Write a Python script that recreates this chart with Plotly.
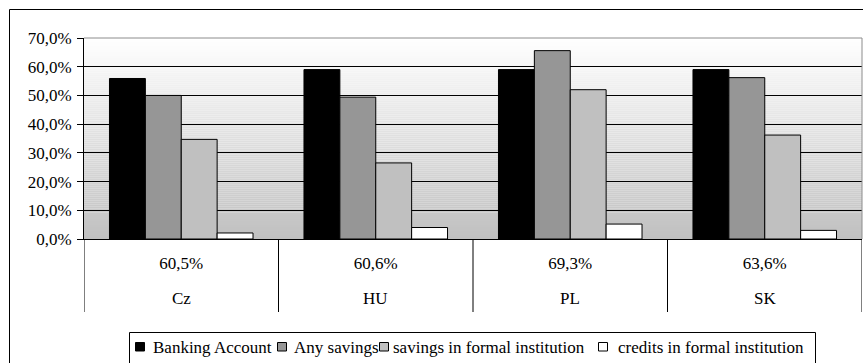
import plotly.graph_objects as go

# Survey shares by country (fractions of respondents)
countries = ["Cz", "HU", "PL", "SK"]
overall = ["60,5%", "60,6%", "69,3%", "63,6%"]
banking_account = [0.559, 0.590, 0.590, 0.590]
any_savings = [0.500, 0.494, 0.656, 0.562]
savings_formal = [0.347, 0.265, 0.520, 0.362]
credits_formal = [0.021, 0.040, 0.052, 0.030]

series_names = ["Banking Account", "Any savings",
                "savings in formal institution", "credits in formal institution"]
series_values = [banking_account, any_savings, savings_formal, credits_formal]
series_colors = ["#000000", "#969696", "#c0c0c0", "#ffffff"]

W, H = 863, 363
L, R, T, B = 84, 1, 38, 124
PW = W - L - R
PH = H - T - B
FONT = "Liberation Serif"
FS = 17


def fx(px):
    """Pixel column -> paper x."""
    return (px - L) / PW


def fy(py):
    """Pixel row -> paper y."""
    return (H - B - py) / PH


def tfont():
    return dict(family=FONT, size=FS, color="#000000")


xs = list(range(len(countries)))

fig = go.Figure()
for name, vals, col in zip(series_names, series_values, series_colors):
    fig.add_trace(go.Bar(
        x=xs, y=vals, name=name,
        marker=dict(color=col, line=dict(color="#000000", width=1)),
        showlegend=False,
    ))

# vertical white-to-grey gradient behind the plot area
n_bands = 100
for i in range(n_bands):
    t = (i + 0.5) / n_bands
    g = round(192 + (255 - 192) * t)
    fig.add_shape(type="rect", xref="paper", yref="paper", layer="below",
                  x0=0, x1=1, y0=i / n_bands, y1=(i + 1) / n_bands,
                  line=dict(width=0), fillcolor=f"rgb({g},{g},{g})")

# grey border on top and right of the plot area
fig.add_shape(type="line", xref="paper", yref="paper", x0=0, x1=1, y0=1, y1=1,
              line=dict(color="#8c8c8c", width=1))
fig.add_shape(type="line", xref="paper", yref="paper", x0=1, x1=1, y0=0, y1=1,
              line=dict(color="#8c8c8c", width=1))

# category dividers below the axis
for k in range(len(countries) + 1):
    fig.add_shape(type="line", xref="x", yref="paper",
                  x0=k - 0.5, x1=k - 0.5, y0=0, y1=fy(312),
                  line=dict(color="#000000", width=1))

# outer chart frame
fig.add_shape(type="rect", xref="paper", yref="paper",
              x0=fx(9.5), x1=fx(880), y0=fy(9.5), y1=fy(400),
              line=dict(color="#000000", width=1))

# legend frame
fig.add_shape(type="rect", xref="paper", yref="paper",
              x0=fx(129.5), x1=fx(815.5), y0=fy(332.5), y1=fy(400),
              line=dict(color="#000000", width=1))

# country names (second row of category labels)
for k, c in enumerate(countries):
    fig.add_annotation(x=k, y=fy(298.5), xref="x", yref="paper", text=c,
                       showarrow=False, xanchor="center", yanchor="middle",
                       font=tfont())

# legend entries
legend_sq = [135.5, 277.5, 379.5, 598.5]
legend_tx = [151, 291.5, 391, 615.5]
for name, col, sx, tx in zip(series_names, series_colors, legend_sq, legend_tx):
    fig.add_shape(type="rect", xref="paper", yref="paper",
                  x0=fx(sx), x1=fx(sx + 9), y0=fy(342.5), y1=fy(351),
                  fillcolor=col, line=dict(color="#000000", width=1))
    fig.add_annotation(x=fx(tx), y=fy(347), xref="paper", yref="paper", text=name,
                       showarrow=False, xanchor="left", yanchor="middle",
                       font=tfont())

fig.update_layout(
    width=W, height=H,
    margin=dict(l=L, r=R, t=T, b=B, pad=0),
    paper_bgcolor="#ffffff",
    plot_bgcolor="rgba(0,0,0,0)",
    separators=", ",
    barmode="group",
    bargap=0.262,
    bargroupgap=0,
    font=tfont(),
)
fig.update_xaxes(
    range=[-0.5, len(countries) - 0.5],
    tickmode="array", tickvals=xs, ticktext=overall,
    ticks="", showgrid=False, zeroline=False,
    showline=True, linecolor="#000000", linewidth=1,
    ticklabelstandoff=9, automargin=False,
    tickfont=tfont(),
)
fig.update_yaxes(
    range=[0, 0.7], dtick=0.1, tick0=0, tickformat=".1%",
    ticks="outside", ticklen=6, tickcolor="#000000", tickwidth=1,
    showgrid=True, gridcolor="#000000", gridwidth=1,
    zeroline=False, showline=True, linecolor="#000000", linewidth=1,
    ticklabelstandoff=2, automargin=False,
    tickfont=tfont(),
)

fig.write_html("out.html")
